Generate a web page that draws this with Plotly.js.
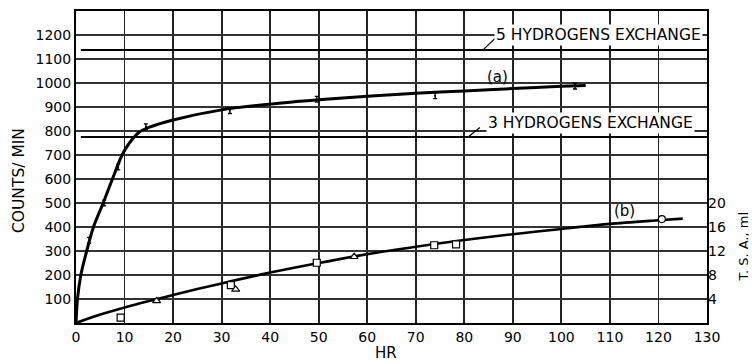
<!DOCTYPE html>
<html>
<head>
<meta charset="utf-8">
<script src="https://cdn.plot.ly/plotly-3.0.1.min.js"></script>
<style>html,body{margin:0;padding:0;background:#fff;}#chart{width:752px;height:364px;}</style>
</head>
<body>
<div id="chart"></div>
<script>
// Curve (a): drawn smooth curve (counts/min vs hr)
var curveAx = [0, 0.3, 1.0, 2.2, 3.6, 5.6, 7.5, 9.5, 11, 13, 15, 20, 30, 40, 50, 60, 70, 80, 90, 100, 105];
var curveAy = [0, 100, 200, 300, 400, 500, 600, 700, 750, 795, 815, 846, 888, 912, 930, 945, 957, 967, 977, 986, 990];
// Curve (a): measured points with error bars
var pointsAx = [2.7, 5.8, 8.7, 14.4, 31.7, 49.6, 74, 102.8];
var pointsAy = [345, 500, 650, 818, 885, 932, 947, 987];
// Curve (b): drawn curve
var curveBx = [0, 5, 10, 20, 30, 40, 50, 60, 70, 80, 90, 100, 110, 120, 125];
var curveBy = [0, 35, 65, 117, 165, 210, 250, 287, 318, 346, 370, 392, 413, 428, 435];
// Curve (b): measured points
var bSquareX = [9.2, 31.9, 49.6, 73.8, 78.3];
var bSquareY = [22, 158, 251, 324, 328];
var bTriangleX = [16.6, 32.9, 57.3];
var bTriangleY = [92, 140, 276];
var bCircleX = [120.7];
var bCircleY = [433];
// Reference levels
var hydro5 = 1137;
var hydro3 = 775;
var levelX = [1, 130];
// Ticks
var xTicks = [0, 10, 20, 30, 40, 50, 60, 70, 80, 90, 100, 110, 120, 130];
var yTicks = [100, 200, 300, 400, 500, 600, 700, 800, 900, 1000, 1100, 1200];
var tsaTicks = [4, 8, 12, 16, 20];

var font = 'DejaVu Sans, Arial, sans-serif';
var traces = [
  {x: levelX, y: [hydro5, hydro5], mode: 'lines', line: {color: '#000', width: 2}, hoverinfo: 'skip'},
  {x: levelX, y: [hydro3, hydro3], mode: 'lines', line: {color: '#000', width: 2}, hoverinfo: 'skip'},
  {x: curveAx, y: curveAy, mode: 'lines', line: {color: '#000', width: 3, shape: 'spline', smoothing: 0.8}},
  {x: pointsAx, y: pointsAy, mode: 'markers', marker: {size: 2, color: '#000'},
   error_y: {type: 'constant', value: 12, width: 2, thickness: 1.3, color: '#000'}},
  {x: curveBx, y: curveBy, mode: 'lines', line: {color: '#000', width: 2.6, shape: 'spline', smoothing: 0.8}},
  {x: bSquareX, y: bSquareY, mode: 'markers', marker: {symbol: 'square', size: 7, color: '#fff', line: {color: '#000', width: 1.2}}},
  {x: bTriangleX, y: bTriangleY, mode: 'markers', marker: {symbol: 'triangle-up', size: 7, color: '#fff', line: {color: '#000', width: 1.2}}},
  {x: bCircleX, y: bCircleY, mode: 'markers', marker: {symbol: 'circle', size: 7, color: '#fff', line: {color: '#000', width: 1.2}}},
  {x: [0], y: [0], yaxis: 'y2', mode: 'markers', marker: {size: 0.1, color: 'rgba(0,0,0,0)'}, hoverinfo: 'skip'}
];

var layout = {
  width: 752, height: 364,
  margin: {l: 76, r: 45, t: 11, b: 41},
  paper_bgcolor: '#fff', plot_bgcolor: '#fff',
  showlegend: false,
  font: {family: font, color: '#000', size: 14},
  xaxis: {
    range: [0, 130], tickvals: xTicks, ticktext: xTicks.map(String),
    showgrid: true, gridcolor: '#222', gridwidth: 1.8,
    showline: true, linecolor: '#000', linewidth: 2, mirror: true,
    zeroline: false, ticks: '', tickfont: {family: font, size: 14, color: '#000'}
  },
  yaxis: {
    range: [0, 1300], tickvals: yTicks, ticktext: yTicks.map(String),
    showgrid: true, gridcolor: '#333', gridwidth: 1.4,
    showline: true, linecolor: '#000', linewidth: 2, mirror: true,
    zeroline: false, ticks: '', tickfont: {family: font, size: 14, color: '#000'}
  },
  yaxis2: {
    overlaying: 'y', side: 'right', range: [0, 52], tickvals: tsaTicks, ticktext: tsaTicks.map(String),
    showgrid: false, showline: false, zeroline: false, ticks: '',
    tickfont: {family: font, size: 14, color: '#000'}
  },
  shapes: [
    {type: 'line', xref: 'x', yref: 'y', x0: 83.8, y0: hydro5, x1: 86.3, y1: 1185, line: {color: '#000', width: 1.3}},
    {type: 'line', xref: 'x', yref: 'y', x0: 80.8, y0: hydro3, x1: 83.2, y1: 815, line: {color: '#000', width: 1.3}}
  ],
  annotations: [
    {x: 107.6, y: 1200, xref: 'x', yref: 'y', text: '5 HYDROGENS EXCHANGE', showarrow: false, font: {size: 15.5}, bgcolor: '#fff'},
    {x: 105.9, y: 833, xref: 'x', yref: 'y', text: '3 HYDROGENS EXCHANGE', showarrow: false, font: {size: 15.5}, bgcolor: '#fff'},
    {x: 86.9, y: 1025, xref: 'x', yref: 'y', text: '(a)', showarrow: false, font: {size: 15}},
    {x: 112.9, y: 467, xref: 'x', yref: 'y', text: '(b)', showarrow: false, font: {size: 15}},
    {x: -0.0905, y: 0.458, xref: 'paper', yref: 'paper', xanchor: 'center', yanchor: 'middle', text: 'COUNTS/ MIN', textangle: -90, showarrow: false, font: {size: 15.5}},
    {x: 63.9, y: -0.096, xref: 'x', yref: 'paper', xanchor: 'center', yanchor: 'middle', text: 'HR', showarrow: false, font: {size: 15}},
    {x: 1.058, y: 0.244, xref: 'paper', yref: 'paper', xanchor: 'center', yanchor: 'middle', text: 'T. S. A., ml', textangle: -90, showarrow: false, font: {size: 13}}
  ]
};

Plotly.newPlot('chart', traces, layout, {staticPlot: true, displayModeBar: false});
</script>
</body>
</html>
